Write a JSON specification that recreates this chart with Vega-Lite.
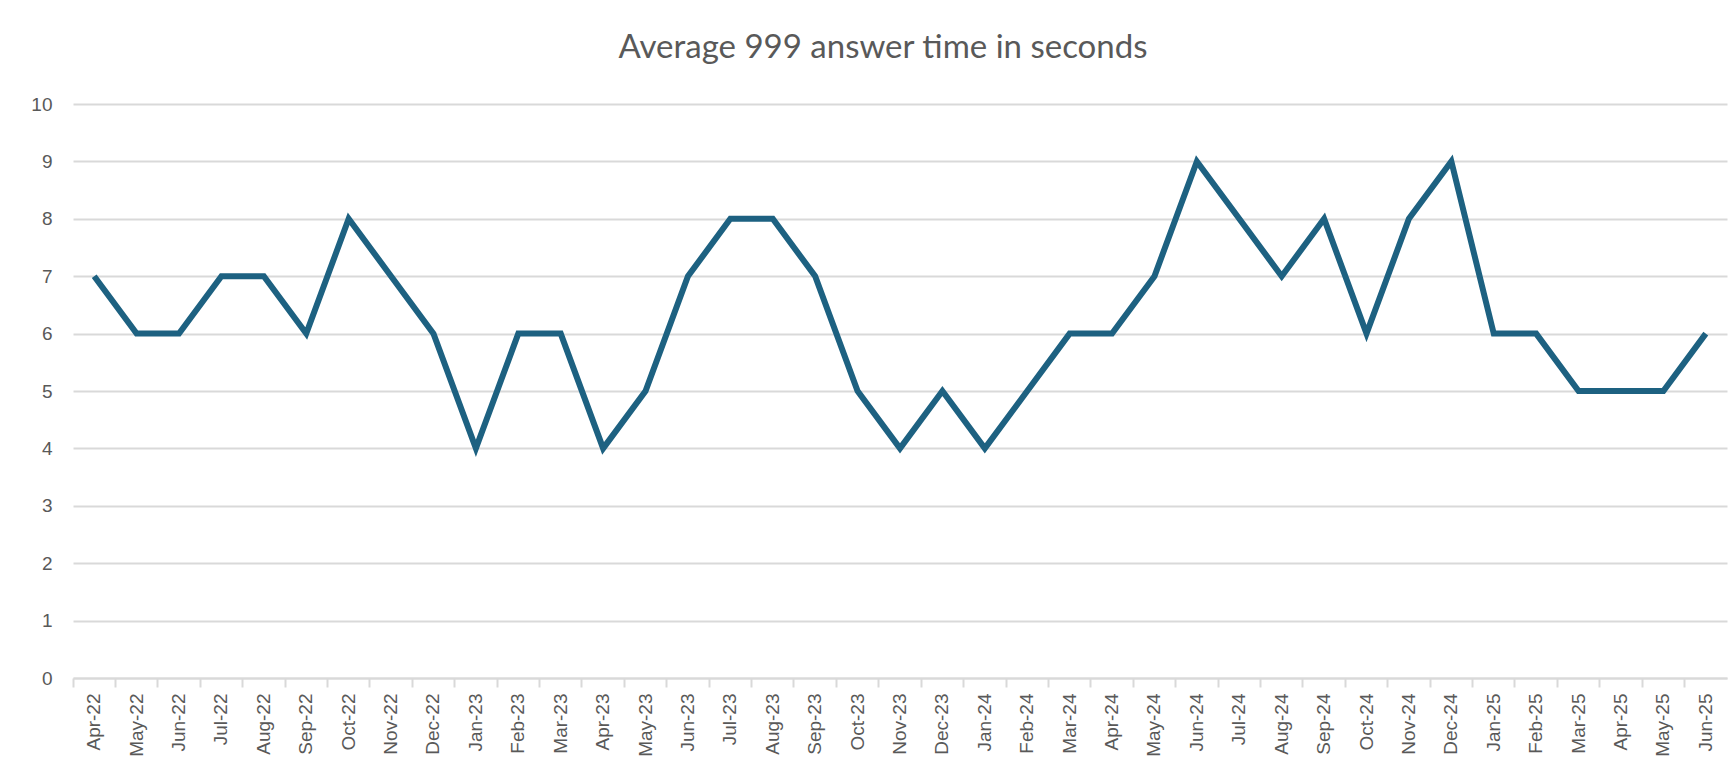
{
  "$schema": "https://vega.github.io/schema/vega-lite/v6.json",
  "width": 1654,
  "height": 574,
  "autosize": "none",
  "padding": {"left": 73, "top": 104, "right": 7, "bottom": 97},
  "background": "#ffffff",
  "title": {
    "text": "Average 999 answer time in seconds",
    "font": "Lato",
    "fontSize": 33,
    "fontWeight": "normal",
    "color": "#595959",
    "anchor": "middle",
    "frame": "group",
    "baseline": "alphabetic",
    "offset": 4,
    "dx": -17
  },
  "data": {
    "values": [
      {"month": "Apr-22", "seconds": 7},
      {"month": "May-22", "seconds": 6},
      {"month": "Jun-22", "seconds": 6},
      {"month": "Jul-22", "seconds": 7},
      {"month": "Aug-22", "seconds": 7},
      {"month": "Sep-22", "seconds": 6},
      {"month": "Oct-22", "seconds": 8},
      {"month": "Nov-22", "seconds": 7},
      {"month": "Dec-22", "seconds": 6},
      {"month": "Jan-23", "seconds": 4},
      {"month": "Feb-23", "seconds": 6},
      {"month": "Mar-23", "seconds": 6},
      {"month": "Apr-23", "seconds": 4},
      {"month": "May-23", "seconds": 5},
      {"month": "Jun-23", "seconds": 7},
      {"month": "Jul-23", "seconds": 8},
      {"month": "Aug-23", "seconds": 8},
      {"month": "Sep-23", "seconds": 7},
      {"month": "Oct-23", "seconds": 5},
      {"month": "Nov-23", "seconds": 4},
      {"month": "Dec-23", "seconds": 5},
      {"month": "Jan-24", "seconds": 4},
      {"month": "Feb-24", "seconds": 5},
      {"month": "Mar-24", "seconds": 6},
      {"month": "Apr-24", "seconds": 6},
      {"month": "May-24", "seconds": 7},
      {"month": "Jun-24", "seconds": 9},
      {"month": "Jul-24", "seconds": 8},
      {"month": "Aug-24", "seconds": 7},
      {"month": "Sep-24", "seconds": 8},
      {"month": "Oct-24", "seconds": 6},
      {"month": "Nov-24", "seconds": 8},
      {"month": "Dec-24", "seconds": 9},
      {"month": "Jan-25", "seconds": 6},
      {"month": "Feb-25", "seconds": 6},
      {"month": "Mar-25", "seconds": 5},
      {"month": "Apr-25", "seconds": 5},
      {"month": "May-25", "seconds": 5},
      {"month": "Jun-25", "seconds": 6}
    ]
  },
  "mark": {"type": "line", "color": "#1d6181", "strokeWidth": 6, "strokeJoin": "miter", "strokeCap": "butt"},
  "encoding": {
    "x": {
      "field": "month",
      "type": "ordinal",
      "sort": null,
      "scale": {"type": "band", "paddingInner": 0, "paddingOuter": 0},
      "axis": {
        "title": null,
        "labelAngle": -90,
        "labelFont": "Liberation Sans",
        "labelFontSize": 19,
        "labelColor": "#595959",
        "labelPadding": 6,
        "labelBaseline": "middle",
        "labelAlign": "right",
        "bandPosition": 0,
        "tickSize": 9,
        "tickColor": "#d9d9d9",
        "tickWidth": 2,
        "domainColor": "#d9d9d9",
        "domainWidth": 2,
        "grid": false
      }
    },
    "y": {
      "field": "seconds",
      "type": "quantitative",
      "scale": {"domain": [0, 10]},
      "axis": {
        "title": null,
        "values": [0, 1, 2, 3, 4, 5, 6, 7, 8, 9, 10],
        "labelFont": "Liberation Sans",
        "labelFontSize": 19,
        "labelColor": "#595959",
        "labelPadding": 21,
        "domain": false,
        "ticks": false,
        "grid": true,
        "gridColor": "#d9d9d9",
        "gridWidth": 2
      }
    }
  },
  "config": {"view": {"stroke": null}}
}
